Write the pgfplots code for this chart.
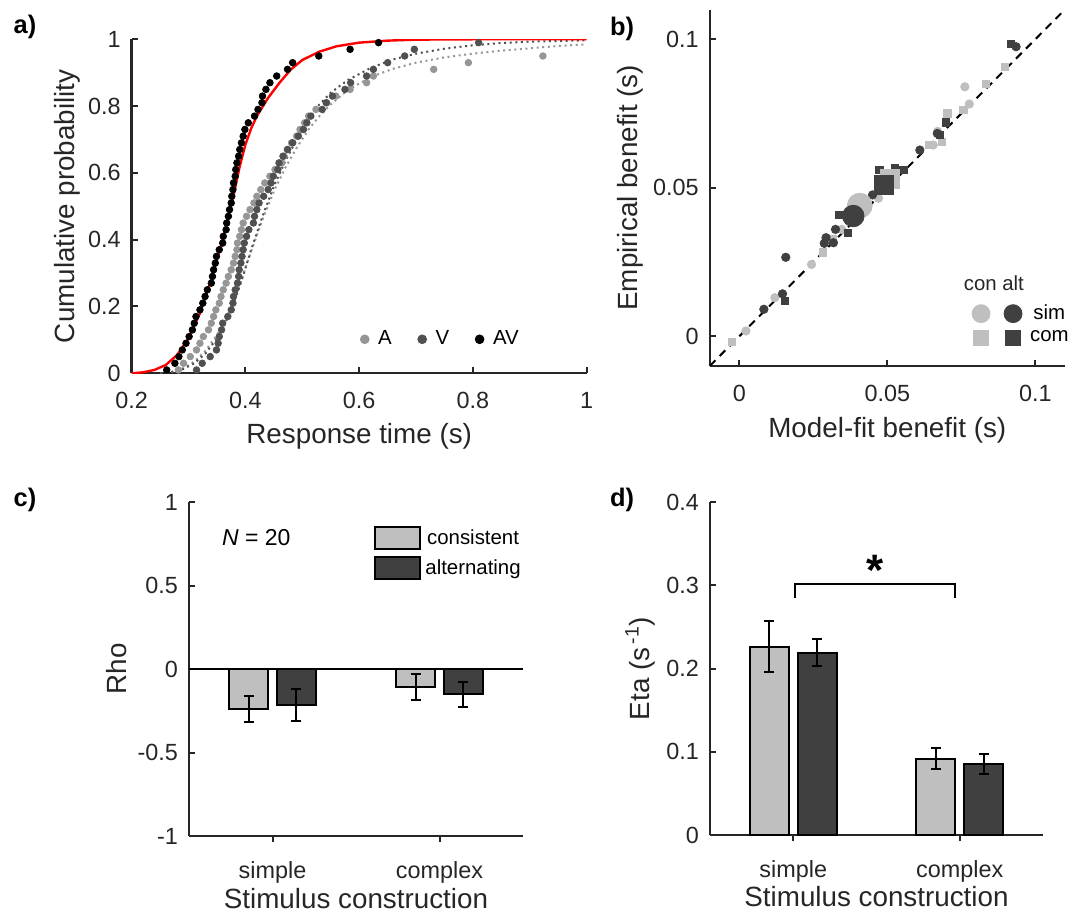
\documentclass[border=0pt]{standalone}
\usepackage{pgfplots}
\pgfplotsset{compat=1.18}
\usepackage{fontspec}
\setmainfont{Liberation Sans}
\setsansfont{Liberation Sans}

\definecolor{axgray}{RGB}{38,38,38}
\definecolor{cA}{RGB}{150,150,150}
\definecolor{cV}{RGB}{80,80,80}
\definecolor{lgt}{RGB}{191,191,191}
\definecolor{drk}{RGB}{64,64,64}

\newcommand{\tickfont}{\fontsize{11.7}{13}\selectfont}
\newcommand{\labfont}{\fontsize{13.9}{16}\selectfont}
\newcommand{\legfont}{\fontsize{10.2}{12}\selectfont}
\newcommand{\panfont}{\fontsize{12.7}{14}\selectfont\bfseries}

\pgfplotsset{
  mstyle/.style={
    scale only axis,
    axis lines=left,
    axis line style={-, draw=axgray, line width=1.2pt},
    every tick/.style={axgray, line width=1pt},
    tick align=inside,
    major tick length=3pt,
    enlargelimits=false,
    scaled ticks=false,
    /pgf/number format/fixed,
    /pgf/number format/assume math mode=true,
    tick label style={font=\tickfont, text=axgray},
    xticklabel style={yshift=-6pt},
    yticklabel style={xshift=-2pt},
    label style={font=\labfont, text=axgray},
  },
  errstyle/.style={draw=black, line width=1pt,
    error bars/.cd, y dir=both, y explicit,
    error bar style={black, line width=1pt},
    error mark options={black, line width=1pt, mark size=2.5pt, rotate=90}},
}

\begin{document}
\begin{tikzpicture}
\path[use as bounding box] (0,0) rectangle (538.5pt,455.5pt);

% ---------- a) cumulative distributions
\begin{axis}[mstyle, at={(65.85pt,268.85pt)}, anchor=south west,
  width=227.5pt, height=167pt,
  xmin=0.2, xmax=1, ymin=0, ymax=1,
  xtick={0.2,0.4,0.6,0.8,1}, ytick={0,0.2,0.4,0.6,0.8,1},
  xlabel={Response time (s)}, ylabel={Cumulative probability},
  xlabel style={at={(axis description cs:0.5,-0.19)}, anchor=center},
  ylabel style={at={(axis description cs:-0.142,0.5)}, anchor=center},
  legend columns=3,
  legend image code/.code={\draw[#1, mark size=2.2pt] plot coordinates {(0pt,0pt)};},
  legend style={at={(axis cs:0.6014,0.1018)}, anchor=west, draw=none, fill=none,
    inner sep=0pt, font=\legfont, nodes={inner xsep=2pt, inner ysep=1pt},
    /tikz/every odd column/.append style={column sep=2.5pt},
    /tikz/every even column/.append style={column sep=11pt}},
]
\addplot[only marks, mark=*, mark size=1.65pt, color=cA] coordinates {
(0.282,0.01) (0.291,0.03) (0.303,0.05) (0.314,0.07) (0.320,0.09) (0.326,0.11)
(0.335,0.13) (0.340,0.15) (0.344,0.17) (0.348,0.19) (0.354,0.21) (0.357,0.23)
(0.361,0.25) (0.366,0.27) (0.370,0.29) (0.375,0.31) (0.379,0.33) (0.382,0.35)
(0.385,0.37) (0.386,0.39) (0.390,0.41) (0.393,0.43) (0.396,0.45) (0.402,0.47)
(0.408,0.49) (0.415,0.51) (0.420,0.53) (0.427,0.55) (0.434,0.57) (0.443,0.59)
(0.452,0.61) (0.464,0.63) (0.468,0.65) (0.474,0.67) (0.481,0.69) (0.490,0.71)
(0.496,0.73) (0.504,0.75) (0.511,0.77) (0.524,0.79) (0.543,0.81) (0.559,0.83)
(0.584,0.85) (0.613,0.87) (0.625,0.89) (0.731,0.91) (0.792,0.93) (0.923,0.95)
};
\addlegendentry{A}
\addplot[only marks, mark=*, mark size=1.65pt, color=cV] coordinates {
(0.314,0.01) (0.324,0.03) (0.338,0.05) (0.349,0.07) (0.352,0.09) (0.354,0.11)
(0.358,0.13) (0.360,0.15) (0.369,0.17) (0.375,0.19) (0.378,0.21) (0.379,0.23)
(0.382,0.25) (0.386,0.27) (0.388,0.29) (0.389,0.31) (0.392,0.33) (0.394,0.35)
(0.396,0.37) (0.398,0.39) (0.402,0.41) (0.406,0.43) (0.414,0.45) (0.416,0.47)
(0.420,0.49) (0.424,0.51) (0.432,0.53) (0.440,0.55) (0.445,0.57) (0.449,0.59)
(0.457,0.61) (0.459,0.63) (0.466,0.65) (0.474,0.67) (0.483,0.69) (0.493,0.71)
(0.502,0.73) (0.508,0.75) (0.515,0.77) (0.535,0.79) (0.542,0.81) (0.553,0.83)
(0.575,0.85) (0.585,0.87) (0.613,0.89) (0.625,0.91) (0.650,0.93) (0.680,0.95)
(0.697,0.97) (0.810,0.99)
};
\addlegendentry{V}
\addplot[only marks, mark=*, mark size=1.65pt, color=black] coordinates {
(0.2616,0.01) (0.276,0.03) (0.283,0.05) (0.289,0.07) (0.2955,0.09) (0.301,0.11)
(0.3067,0.13) (0.310,0.15) (0.313,0.17) (0.320,0.19) (0.325,0.21) (0.329,0.23)
(0.333,0.25) (0.340,0.27) (0.342,0.29) (0.344,0.31) (0.347,0.33) (0.349,0.35)
(0.354,0.37) (0.360,0.39) (0.361,0.41) (0.366,0.43) (0.367,0.45) (0.370,0.47)
(0.372,0.49) (0.375,0.51) (0.376,0.53) (0.378,0.55) (0.379,0.57) (0.382,0.59)
(0.383,0.61) (0.385,0.63) (0.388,0.65) (0.390,0.67) (0.393,0.69) (0.396,0.71)
(0.399,0.73) (0.405,0.75) (0.416,0.77) (0.422,0.79) (0.429,0.81) (0.430,0.83)
(0.436,0.85) (0.443,0.87) (0.455,0.89) (0.474,0.91) (0.483,0.93) (0.529,0.95)
(0.584,0.97) (0.634,0.99)
};
\addlegendentry{AV}
% model fits
\addplot[forget plot, cA, line width=1pt, dash pattern=on 1pt off 1.8pt] coordinates {
(0.25,0.000) (0.27,0.004) (0.29,0.015) (0.31,0.035) (0.33,0.068) (0.35,0.115)
(0.37,0.180) (0.39,0.265) (0.41,0.365) (0.43,0.460) (0.45,0.545) (0.47,0.615)
(0.49,0.675) (0.51,0.728) (0.53,0.770) (0.55,0.805) (0.58,0.848) (0.62,0.887)
(0.66,0.912) (0.70,0.930) (0.75,0.946) (0.80,0.957) (0.85,0.966) (0.90,0.973)
(0.95,0.980) (1.00,0.985)
};
\addplot[forget plot, cV, line width=1pt, dash pattern=on 1pt off 1.8pt] coordinates {
(0.25,0.000) (0.27,0.003) (0.29,0.012) (0.31,0.030) (0.33,0.060) (0.35,0.105)
(0.37,0.170) (0.39,0.260) (0.41,0.370) (0.43,0.470) (0.45,0.560) (0.47,0.635)
(0.49,0.700) (0.51,0.760) (0.53,0.805) (0.55,0.840) (0.58,0.878) (0.62,0.914)
(0.66,0.940) (0.70,0.957) (0.75,0.972) (0.80,0.982) (0.85,0.989) (0.90,0.993)
(1.00,0.997)
};
\addplot[forget plot, red, line width=1.2pt] coordinates {
(0.20,0.000) (0.22,0.003) (0.24,0.010) (0.26,0.025) (0.28,0.055) (0.30,0.105)
(0.32,0.180) (0.34,0.280) (0.36,0.400) (0.37,0.470) (0.38,0.540) (0.39,0.620)
(0.40,0.685) (0.41,0.733) (0.42,0.770) (0.44,0.825) (0.46,0.870) (0.48,0.910)
(0.50,0.938) (0.53,0.963) (0.56,0.979) (0.60,0.990) (0.65,0.996) (0.70,0.999)
(0.80,1.000) (1.00,1.000)
};
\end{axis}

% ---------- b) empirical vs model-fit benefit
\begin{axis}[mstyle, at={(354.85pt,272.5pt)}, anchor=south west,
  width=177.6pt, height=178.2pt,
  xmin=-0.01, xmax=0.11, ymin=-0.01, ymax=0.11,
  xtick={0,0.05,0.1}, ytick={0,0.05,0.1},
  xlabel={Model-fit benefit (s)}, ylabel={Empirical benefit (s)},
  xlabel style={at={(axis description cs:0.5,-0.18)}, anchor=center},
  ylabel style={at={(axis description cs:-0.224,0.5)}, anchor=center},
  legend columns=2,
  legend image code/.code={\draw[#1] plot coordinates {(0pt,0pt)};},
  legend style={at={(axis cs:0.0785,0.0121)}, anchor=north west, draw=none, fill=none,
    inner sep=0pt, font=\legfont, nodes={inner xsep=2pt, inner ysep=2pt},
    /tikz/every odd column/.append style={column sep=2pt},
    /tikz/every even column/.append style={column sep=1pt}},
]
\addplot[forget plot, black, line width=1pt, dash pattern=on 4pt off 3pt] coordinates {(-0.01,-0.01) (0.11,0.11)};
% consistent, simple
\addplot[forget plot, only marks, mark=*, mark size=2.1pt, color=lgt] coordinates {
(0.00225,0.0018) (0.012,0.013) (0.0244,0.0242) (0.0346,0.036) (0.047,0.0465)
(0.0655,0.0644) (0.067,0.069) (0.0777,0.0782) (0.0762,0.084)
};
% consistent, complex
\addplot[forget plot, only marks, mark=square*, mark size=1.83pt, color=lgt] coordinates {
(-0.0024,-0.002) (0.0282,0.0283) (0.0314,0.0328) (0.053,0.052) (0.0526,0.0554)
(0.064,0.0644) (0.0684,0.0655) (0.0703,0.0751) (0.0757,0.0762) (0.0833,0.085)
(0.0898,0.0906)
};
% alternating, simple
\addplot[forget plot, only marks, mark=*, mark size=2.1pt, color=drk] coordinates {
(0.0083,0.0091) (0.0146,0.0143) (0.0157,0.0266) (0.0287,0.0313) (0.0293,0.0332)
(0.0318,0.0315) (0.0325,0.036) (0.045,0.0476) (0.061,0.0627) (0.0669,0.0683)
(0.0935,0.0975)
};
% alternating, complex
\addplot[forget plot, only marks, mark=square*, mark size=1.83pt, color=drk] coordinates {
(0.0154,0.0119) (0.0338,0.0409) (0.0368,0.0349) (0.0473,0.056) (0.0526,0.0568)
(0.0554,0.056) (0.0678,0.0678) (0.0698,0.072) (0.0917,0.0984)
};
% group means
\addplot[forget plot, only marks, mark=*, mark size=6.2pt, color=lgt] coordinates {(0.0407,0.044)};
\addplot[forget plot, only marks, mark=*, mark size=5.4pt, color=drk] coordinates {(0.0385,0.0405)};
\addplot[forget plot, only marks, mark=square*, mark size=4.8pt, color=lgt] coordinates {(0.051,0.053)};
\addplot[forget plot, only marks, mark=square*, mark size=4.8pt, color=drk] coordinates {(0.0489,0.051)};
\addlegendimage{only marks, mark=*, mark size=4.5pt, color=lgt}
\addlegendentry{}
\addlegendimage{only marks, mark=*, mark size=4.5pt, color=drk}
\addlegendentry{sim}
\addlegendimage{only marks, mark=square*, mark size=3.75pt, color=lgt}
\addlegendentry{}
\addlegendimage{only marks, mark=square*, mark size=3.75pt, color=drk}
\addlegendentry{com}
\node[font=\legfont, text=axgray, anchor=center, inner sep=0pt] at (axis cs:0.086,0.01795) {con alt};
\end{axis}

% ---------- c) Rho
\begin{axis}[mstyle, at={(94.5pt,37.5pt)}, anchor=south west,
  width=167pt, height=167pt,
  ybar, bar width=0.234,
  xmin=0.5, xmax=2.5, ymin=-1, ymax=1,
  xtick={1,2}, xticklabels={simple,complex},
  ytick={-1,-0.5,0,0.5,1},
  xlabel={Stimulus construction}, ylabel={Rho},
  xlabel style={at={(axis description cs:0.5,-0.186)}, anchor=center},
  ylabel style={at={(axis description cs:-0.216,0.5)}, anchor=center},
  legend style={at={(axis cs:1.608,0.862)}, anchor=north west, draw=none, fill=none,
    inner sep=0pt, row sep=2pt, font=\legfont, nodes={inner xsep=2pt, inner ysep=2pt}},
]
\addplot[forget plot, sharp plot, black, line width=1pt] coordinates {(0.5,0) (2.5,0)};
\addplot[forget plot, bar shift=-0.143, fill=lgt, errstyle] table[x=x, y=y, y error=e] {
x y e
1 -0.240 0.080
2 -0.108 0.077
};
\addplot[forget plot, bar shift=0.143, fill=drk, errstyle] table[x=x, y=y, y error=e] {
x y e
1 -0.216 0.096
2 -0.152 0.076
};
\addlegendimage{legend image code/.code={\draw[fill=lgt, draw=black, line width=1pt] (0pt,-5.5pt) rectangle (22.5pt,5.5pt);}}
\addlegendentry{consistent}
\addlegendimage{legend image code/.code={\draw[fill=drk, draw=black, line width=1pt] (0pt,-5.5pt) rectangle (22.5pt,5.5pt);}}
\addlegendentry{alternating}
\node[anchor=west, inner sep=0pt, font=\fontsize{11.5}{13}\selectfont, text=black] at (axis cs:0.696,0.787) {\textit{N} = 20};
\end{axis}

% ---------- d) Eta
\begin{axis}[mstyle, at={(355pt,38pt)}, anchor=south west,
  width=166.5pt, height=166.5pt,
  ybar, bar width=0.234,
  xmin=0.5, xmax=2.5, ymin=0, ymax=0.4,
  xtick={1,2}, xticklabels={simple,complex},
  ytick={0,0.1,0.2,0.3,0.4},
  xlabel={Stimulus construction}, ylabel={Eta (s\textsuperscript{\,-1})},
  xlabel style={at={(axis description cs:0.5,-0.186)}, anchor=center},
  ylabel style={at={(axis description cs:-0.21,0.5)}, anchor=center},
]
\addplot[forget plot, bar shift=-0.143, fill=lgt, errstyle] table[x=x, y=y, y error=e] {
x y e
1 0.226 0.0305
2 0.0917 0.013
};
\addplot[forget plot, bar shift=0.143, fill=drk, errstyle] table[x=x, y=y, y error=e] {
x y e
1 0.219 0.016
2 0.085 0.012
};
\addplot[forget plot, sharp plot, black, line width=1pt] coordinates {(1.01,0.285) (1.01,0.302) (1.97,0.302) (1.97,0.285)};
\node[anchor=base, inner sep=0pt, font=\fontsize{22}{22}\selectfont\bfseries] at (axis cs:1.49,0.300) {*};
\end{axis}

% panel letters
\node[font=\panfont, anchor=center] at (12.5pt,442pt) {a)};
\node[font=\panfont, anchor=center] at (311pt,441pt) {b)};
\node[font=\panfont, anchor=center] at (12.5pt,205.5pt) {c)};
\node[font=\panfont, anchor=center] at (311pt,205.5pt) {d)};
\end{tikzpicture}
\end{document}
